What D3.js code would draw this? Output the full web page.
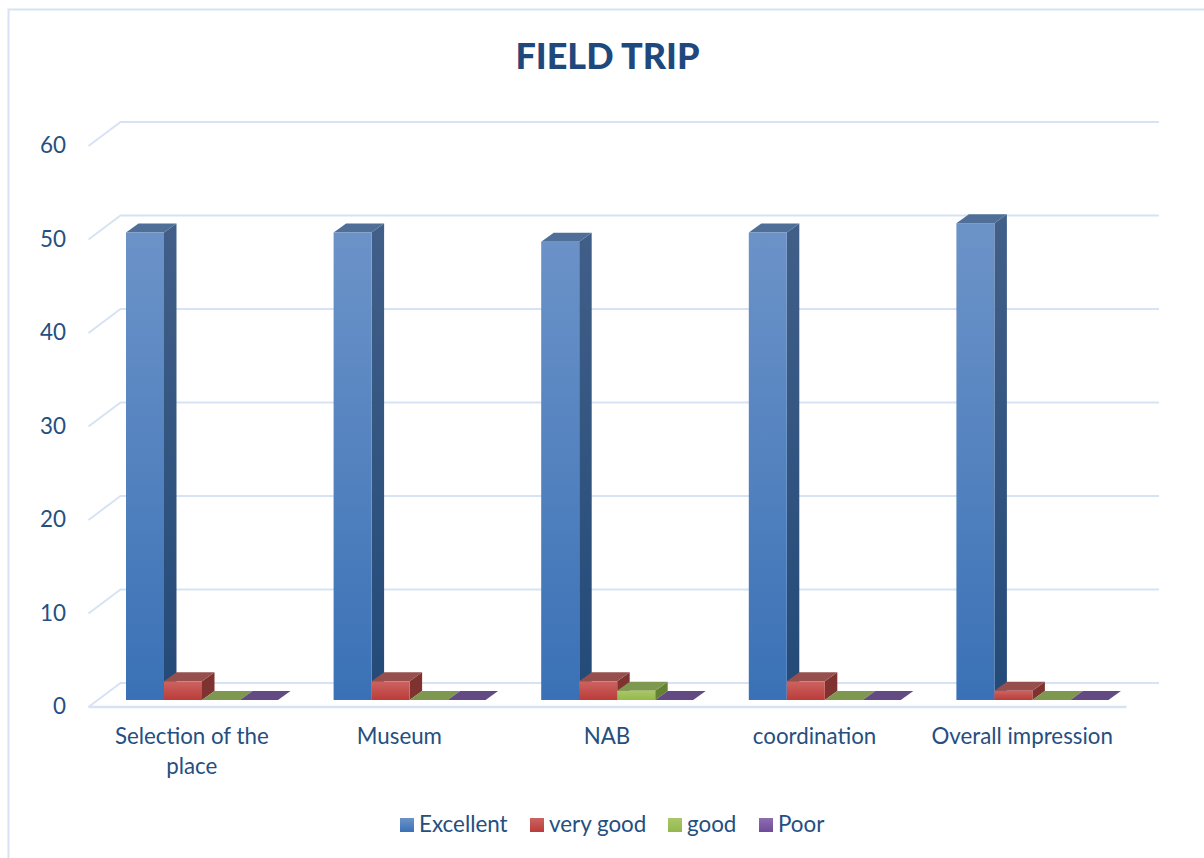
<!DOCTYPE html>
<html>
<head>
<meta charset="utf-8">
<script src="https://d3js.org/d3.v7.min.js"></script>
<style>
  html, body { margin: 0; padding: 0; background: #fff; }
  svg { display: block; }
  text { font-family: Lato, "Open Sans", sans-serif; }
</style>
</head>
<body>
<div id="chart"></div>
<script>
var categories = ["Selection of the place", "Museum", "NAB", "coordination", "Overall impression"];
var seriesNames = ["Excellent", "very good", "good", "Poor"];
var excellent = [50, 50, 49, 50, 51];
var veryGood = [2, 2, 2, 2, 1];
var good = [0, 0, 1, 0, 0];
var poor = [0, 0, 0, 0, 0];
var yTicks = [0, 10, 20, 30, 40, 50, 60];

var seriesValues = [excellent, veryGood, good, poor];
var palette = [
  { hi: "#6c93c8", lo: "#3a71b6", top: "#4f6f99", sideHi: "#415f88", sideLo: "#234a78" },
  { hi: "#cb6461", lo: "#bb3c39", top: "#974f4e", sideHi: "#80403e", sideLo: "#7e3331" },
  { hi: "#a9c769", lo: "#94b84a", top: "#7e9850", sideHi: "#6a8438", sideLo: "#648232" },
  { hi: "#8d6db3", lo: "#6f4c98", top: "#634a82", sideHi: "#5a4278", sideLo: "#4f386c" }
];

var width = 1204, height = 858;
var gridColor = "#d7e3f4", textColor = "#254f80", titleColor = "#1f497d";

// 3d offsets, wall depth and bar depth
var wallDx = 32, wallDy = -24;
var barDx = 12.5, barDy = -9;
var floorShift = 7;

var svg = d3.select("#chart").append("svg").attr("width", width).attr("height", height);
var defs = svg.append("defs");

palette.forEach(function(p, i) {
  var g = defs.append("linearGradient").attr("id", "front" + i)
    .attr("gradientUnits", "userSpaceOnUse")
    .attr("x1", 0).attr("x2", 0).attr("y1", 232).attr("y2", 700);
  g.append("stop").attr("offset", 0).attr("stop-color", p.hi);
  g.append("stop").attr("offset", 1).attr("stop-color", p.lo);
  var s = defs.append("linearGradient").attr("id", "side" + i)
    .attr("gradientUnits", "userSpaceOnUse")
    .attr("x1", 0).attr("x2", 0).attr("y1", 224).attr("y2", 700);
  s.append("stop").attr("offset", 0).attr("stop-color", p.sideHi);
  s.append("stop").attr("offset", 1).attr("stop-color", p.sideLo);
  // small bars need their own gradient box
  var sm = defs.append("linearGradient").attr("id", "frontSmall" + i)
    .attr("x1", 0).attr("x2", 0).attr("y1", 0).attr("y2", 1);
  sm.append("stop").attr("offset", 0).attr("stop-color", p.hi);
  sm.append("stop").attr("offset", 1).attr("stop-color", p.lo);
  var lg = defs.append("linearGradient").attr("id", "legend" + i)
    .attr("x1", 0).attr("x2", 0).attr("y1", 0).attr("y2", 1);
  lg.append("stop").attr("offset", 0).attr("stop-color", p.hi);
  lg.append("stop").attr("offset", 1).attr("stop-color", p.lo);
});

// outer frame, only left and top edges are inside the picture
svg.append("path")
  .attr("d", "M8.5,858 V9.5 H1204")
  .attr("fill", "none").attr("stroke", gridColor).attr("stroke-width", 2);

svg.append("text")
  .attr("x", 607.5).attr("y", 69)
  .attr("text-anchor", "middle")
  .attr("font-size", 36).attr("font-weight", 900)
  .attr("fill", titleColor)
  .text("FIELD TRIP");

var x0 = d3.scaleBand().domain(categories).range([88.5, 1126.5]);
var y = d3.scaleLinear().domain([0, 60]).range([707, 146]);
var x1 = d3.scaleBand().domain(seriesNames)
  .range([37.5, 37.5 + 38 * seriesNames.length]);

// gridlines on floor and back wall
svg.append("g").selectAll("path").data(yTicks).join("path")
  .attr("d", function(t) {
    var yy = y(t);
    return "M" + x0.range()[0] + "," + yy + "L" + (x0.range()[0] + wallDx) + "," + (yy + wallDy) + "H1159";
  })
  .attr("fill", "none").attr("stroke", gridColor).attr("stroke-width", 2);

// front edge of the floor
svg.append("line")
  .attr("x1", x0.range()[0]).attr("x2", x0.range()[1])
  .attr("y1", y(0)).attr("y2", y(0))
  .attr("stroke", gridColor).attr("stroke-width", 2.5);

// y axis labels
var yAxis = d3.axisLeft(y).tickValues(yTicks).tickSize(0).tickPadding(0).tickFormat(d3.format("d"));
var yG = svg.append("g").attr("transform", "translate(66,0)").call(yAxis);
yG.select(".domain").remove();
yG.selectAll("text")
  .attr("font-size", 22.4).attr("fill", textColor)
  .style("font-family", "Lato, sans-serif")
  .attr("dy", "0.3em");

// category labels, wrapped at the band width
var lineSets = [["Selection of the", "place"], ["Museum"], ["NAB"], ["coordination"], ["Overall impression"]];
var catG = svg.append("g").selectAll("text").data(categories).join("text")
  .attr("text-anchor", "middle")
  .attr("font-size", 22.3).attr("fill", textColor);
catG.each(function(c, i) {
  var cx = x0(c) + x0.bandwidth() / 2 - 0.5;
  d3.select(this).selectAll("tspan").data(lineSets[i]).join("tspan")
    .attr("x", cx)
    .attr("y", function(d, j) { return 744 + j * 30; })
    .text(function(d) { return d; });
});

// bars: draw left to right so each one overlaps the last
var bars = svg.append("g");
categories.forEach(function(c, ci) {
  seriesNames.forEach(function(s, si) {
    var v = seriesValues[si][ci];
    var left = x0(c) + x1(s);
    var w = x1.bandwidth();
    var bottom = y(0) - floorShift;
    var top = y(v) - floorShift;
    var p = palette[si];
    var g = bars.append("g");
    var tall = v > 5;

    // side face
    g.append("path")
      .attr("d", "M" + (left + w) + "," + top + "l" + barDx + "," + barDy +
        "V" + (bottom + barDy) + "l" + (-barDx) + "," + (-barDy) + "Z")
      .attr("fill", tall ? "url(#side" + si + ")" : p.sideLo);
    // top face
    g.append("path")
      .attr("d", "M" + left + "," + top + "l" + barDx + "," + barDy + "h" + w + "l" + (-barDx) + "," + (-barDy) + "Z")
      .attr("fill", p.top);
    // front face
    if (v > 0) {
      g.append("rect")
        .attr("x", left).attr("y", top)
        .attr("width", w).attr("height", bottom - top)
        .attr("fill", tall ? "url(#front" + si + ")" : "url(#frontSmall" + si + ")");
    }
  });
});

// legend
var legendX = [400, 530, 668, 759];
var legend = svg.append("g").selectAll("g").data(seriesNames).join("g")
  .attr("transform", function(d, i) { return "translate(" + legendX[i] + ",818)"; });
legend.append("rect")
  .attr("width", 14).attr("height", 14)
  .attr("fill", function(d, i) { return "url(#legend" + i + ")"; });
legend.append("text")
  .attr("x", 19).attr("y", 14)
  .attr("font-size", 22.4).attr("fill", textColor)
  .text(function(d) { return d; });
</script>
</body>
</html>
